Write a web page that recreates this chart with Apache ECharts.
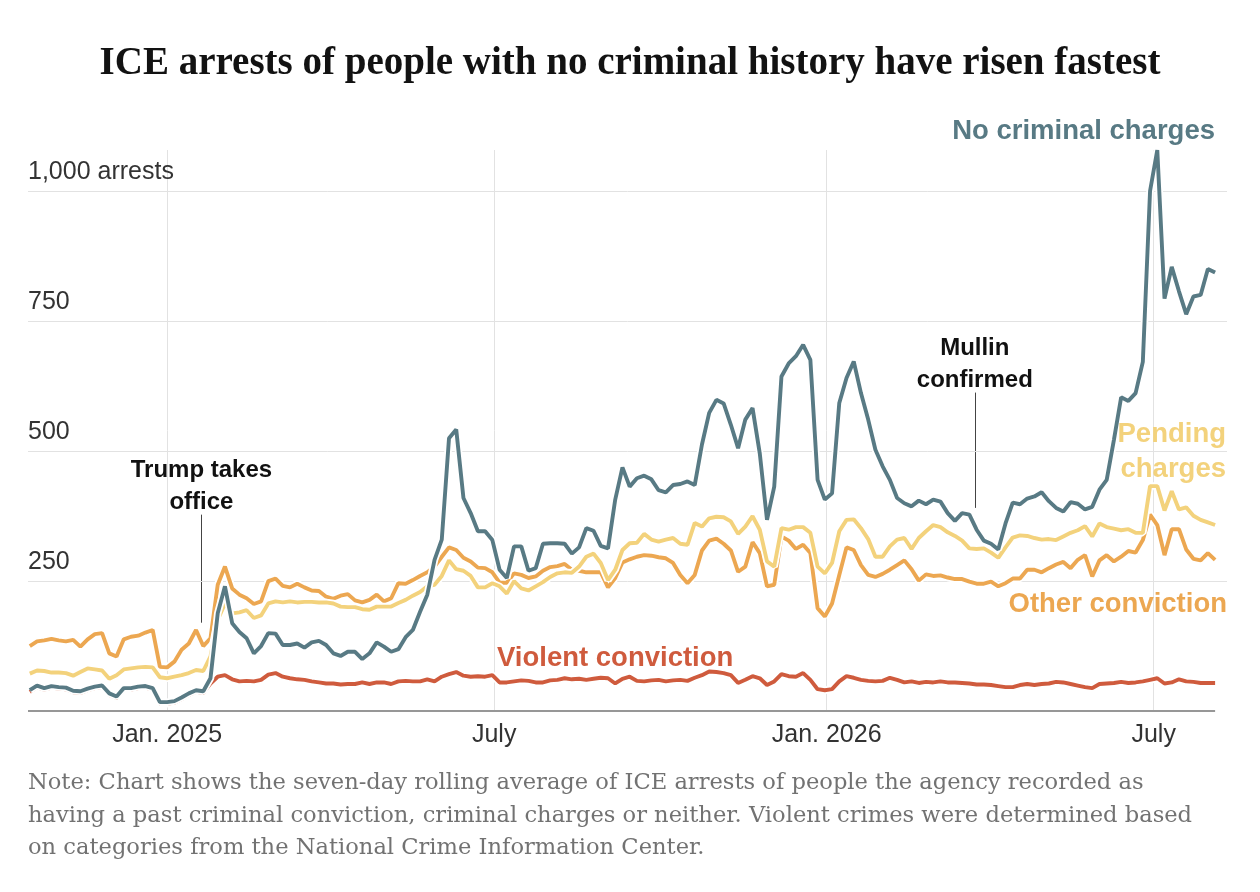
<!DOCTYPE html>
<html><head><meta charset="utf-8">
<script src="https://cdn.jsdelivr.net/npm/echarts@6/dist/echarts.min.js"></script>
<style>html,body{margin:0;padding:0;background:#fff}#c{width:1260px;height:892px}</style>
</head><body><div id="c"></div>
<script>
// 7-day rolling average of ICE arrests, sampled every 4 days starting Oct 17, 2024
const startYear = 2024, startMonth = 9, startDay = 17, stepDays = 4;

const noCharges = [
 40, 49, 44, 48, 46, 45, 39, 38, 43, 47,
 49, 34, 28, 44, 44, 47, 48, 44, 17, 17,
 19, 26, 34, 40, 38, 63, 188, 240, 169, 152,
 140, 111, 125, 150, 149, 127, 127, 130, 122, 132,
 135, 127, 111, 106, 114, 114, 100, 111, 132, 124,
 114, 119, 142, 156, 191, 224, 291, 330, 525, 542,
 410, 381, 346, 346, 329, 272, 256, 317, 317, 270,
 275, 322, 323, 323, 322, 303, 315, 352, 347, 318,
 313, 407, 469, 432, 448, 453, 446, 425, 421, 435,
 437, 442, 435, 513, 574, 599, 592, 551, 506, 561,
 583, 496, 368, 432, 644, 669, 683, 705, 676, 445,
 407, 419, 593, 641, 673, 612, 561, 503, 471, 445,
 410, 400, 394, 405, 398, 407, 403, 381, 366, 381,
 378, 349, 328, 322, 311, 361, 401, 398, 409, 413,
 421, 404, 391, 384, 402, 399, 388, 393, 426, 445,
 522, 604, 597, 612, 672, 1001, 1080, 794, 855, 808,
 764, 798, 801, 851, 844
];
const pendingCharges = [
 72, 78, 77, 74, 74, 73, 68, 75, 82, 80,
 78, 62, 69, 80, 82, 84, 85, 84, 65, 63,
 66, 69, 73, 79, 77, 105, 175, 207, 188, 190,
 194, 179, 184, 207, 211, 209, 211, 209, 210, 210,
 209, 209, 207, 201, 200, 200, 196, 195, 201, 201,
 201, 208, 214, 222, 229, 240, 243, 260, 290, 273,
 270, 260, 238, 238, 246, 240, 226, 250, 236, 232,
 240, 248, 258, 265, 267, 266, 278, 297, 303, 285,
 252, 272, 310, 323, 324, 341, 330, 326, 330, 333,
 322, 320, 362, 355, 371, 374, 373, 365, 341, 355,
 375, 349, 288, 278, 352, 349, 354, 354, 343, 278,
 265, 285, 346, 368, 369, 352, 331, 297, 297, 317,
 330, 333, 312, 333, 346, 358, 354, 344, 337, 328,
 313, 312, 313, 305, 295, 315, 334, 338, 337, 333,
 330, 331, 329, 336, 343, 348, 356, 336, 361, 354,
 351, 348, 350, 343, 343, 433, 433, 386, 423, 388,
 392, 376, 368, 363, 358
];
const otherConviction = [
 125, 134, 136, 139, 136, 134, 137, 124, 138, 148,
 150, 111, 105, 138, 143, 145, 151, 156, 85, 84,
 95, 118, 130, 156, 125, 140, 243, 278, 236, 224,
 217, 206, 211, 250, 255, 241, 238, 245, 238, 232,
 231, 220, 216, 222, 225, 213, 209, 214, 224, 211,
 217, 246, 245, 252, 260, 267, 278, 297, 315, 310,
 295, 288, 276, 275, 267, 247, 247, 265, 262, 256,
 259, 270, 277, 279, 283, 272, 270, 267, 267, 267,
 238, 256, 286, 292, 297, 300, 299, 296, 294, 285,
 262, 246, 262, 309, 328, 332, 322, 309, 268, 278,
 325, 304, 240, 243, 336, 328, 312, 320, 304, 198,
 182, 207, 262, 315, 310, 281, 262, 258, 264, 272,
 281, 290, 273, 251, 263, 260, 261, 257, 254, 254,
 249, 245, 245, 249, 240, 246, 255, 255, 272, 272,
 267, 275, 282, 287, 275, 291, 300, 259, 290, 300,
 288, 297, 308, 305, 329, 378, 358, 300, 350, 350,
 311, 293, 290, 304, 291
];
const violentConviction = [
 37, 46, 41, 45, 43, 42, 36, 35, 40, 44,
 46, 31, 25, 41, 41, 44, 45, 41, 14, 14,
 16, 23, 31, 37, 35, 53, 66, 69, 61, 57,
 58, 57, 60, 70, 73, 66, 63, 61, 60, 57,
 55, 53, 53, 51, 52, 52, 55, 52, 55, 55,
 52, 57, 58, 57, 57, 61, 57, 66, 71, 75,
 68, 66, 67, 66, 69, 55, 55, 57, 59, 58,
 55, 55, 59, 60, 63, 61, 62, 60, 62, 64,
 63, 53, 62, 66, 58, 57, 59, 60, 57, 59,
 60, 58, 64, 69, 76, 75, 73, 69, 54, 60,
 67, 63, 50, 57, 71, 67, 66, 73, 60, 42,
 40, 42, 57, 67, 64, 60, 58, 57, 58, 64,
 60, 55, 57, 54, 56, 55, 57, 55, 55, 54,
 53, 51, 51, 50, 48, 46, 46, 50, 52, 50,
 52, 53, 56, 55, 52, 49, 46, 44, 52, 53,
 54, 56, 54, 55, 57, 60, 63, 53, 55, 61,
 57, 56, 54, 54, 54
];

const xTickDates = ['2025-01-01', '2025-07-01', '2026-01-01', '2026-07-01'];
const xTickLabels = ['Jan. 2025', 'July', 'Jan. 2026', 'July'];
const yTicks = [0, 250, 500, 750, 1000];
const annotationDates = ['2025-01-20', '2026-03-24'];
const annotationRanges = [[170, 378], [391, 613]];
const annotationTexts = ['Trump takes\noffice', 'Mullin\nconfirmed'];

const dates = noCharges.map((_, i) => new Date(startYear, startMonth, startDay + i * stepDays).getTime());
const pts = arr => arr.map((v, i) => [dates[i], v]);
const parseDay = s => { const p = s.split('-').map(Number); return new Date(p[0], p[1] - 1, p[2]).getTime(); };

const SANS = '"Liberation Sans", Arial, sans-serif';
const C_TEAL = '#587a84', C_YEL = '#f3d27c', C_ORG = '#eca751', C_RED = '#cf5b3d';

function lineSeries(name, arr, color, z) {
  return [
    {type: 'line', name: name + ' halo', data: pts(arr), symbol: 'none', silent: true, z: z,
     lineStyle: {color: '#ffffff', width: 7.5}},
    {type: 'line', name: name, data: pts(arr), symbol: 'none', silent: true, z: z + 1,
     lineStyle: {color: color, width: 3.9}}
  ];
}

const markData = [];
xTickDates.forEach((d, i) => {
  markData.push({xAxis: parseDay(d), lineStyle: {color: '#e2e2e2', width: 1, type: 'solid'},
    label: {show: true, position: 'start', formatter: xTickLabels[i], color: '#333', fontSize: 25,
            fontFamily: SANS, distance: 12}});
});
markData.push([
  {coord: [dates[0] - 86400000, 0], lineStyle: {color: '#979797', width: 2, type: 'solid'}, label: {show: false}},
  {coord: [dates[dates.length - 1], 0]}
]);
annotationDates.forEach((d, i) => {
  markData.push([
    {coord: [parseDay(d), annotationRanges[i][0]], lineStyle: {color: '#444', width: 1, type: 'solid'},
     label: {show: true, position: 'end', formatter: annotationTexts[i], color: '#111', fontSize: 24,
             fontWeight: 'bold', fontFamily: SANS, lineHeight: 32, align: 'center', distance: -4}},
    {coord: [parseDay(d), annotationRanges[i][1]]}
  ]);
});

const chart = echarts.init(document.getElementById('c'), null, {renderer: 'canvas'});
chart.setOption({
  animation: false,
  backgroundColor: '#fff',
  title: {text: 'ICE arrests of people with no criminal history have risen fastest', left: 'center', top: 39,
    textStyle: {fontFamily: '"Liberation Serif", serif', fontWeight: 'bold', fontSize: 39, color: '#121212'}},
  grid: {left: 28, right: 33, top: 150, bottom: 181},
  xAxis: {type: 'time', min: new Date(2024, 9, 16).getTime(), max: new Date(2026, 7, 10, 14).getTime(),
    axisLine: {show: false}, axisTick: {show: false}, axisLabel: {show: false}, splitLine: {show: false}},
  yAxis: {type: 'value', min: 0, max: 1080, interval: 250, z: 1.5,
    axisLine: {show: false}, axisTick: {show: false},
    splitLine: {show: true, showMinLine: false, showMaxLine: false, lineStyle: {color: '#e2e2e2', width: 1}},
    axisLabel: {inside: true, margin: 0, verticalAlign: 'bottom', padding: [0, 0, 7, 0], color: '#333',
      fontSize: 25, fontFamily: SANS, showMinLabel: false, showMaxLabel: false,
      formatter: v => v === 1000 ? '1,000 arrests' : (yTicks.indexOf(v) > 0 ? String(v) : '')}},
  series: [
    {type: 'line', name: 'frame', data: [], silent: true, z: 1,
     markLine: {z: 1, silent: true, symbol: 'none', animation: false, data: markData}},
    ...lineSeries('Violent conviction', violentConviction, C_RED, 2),
    ...lineSeries('Other conviction', otherConviction, C_ORG, 4),
    ...lineSeries('Pending charges', pendingCharges, C_YEL, 6),
    ...lineSeries('No criminal charges', noCharges, C_TEAL, 8)
  ],
  graphic: [
    {type: 'text', x: 1215, y: 131, z: 20, style: {text: 'No criminal charges', fill: C_TEAL, align: 'right', verticalAlign: 'middle', font: 'bold 27.5px ' + SANS}},
    {type: 'text', x: 1226, y: 452, z: 20, style: {text: 'Pending\ncharges', fill: C_YEL, align: 'right', verticalAlign: 'middle', lineHeight: 35, font: 'bold 27.5px ' + SANS}},
    {type: 'text', x: 1227, y: 604, z: 20, style: {text: 'Other conviction', fill: C_ORG, align: 'right', verticalAlign: 'middle', font: 'bold 27.5px ' + SANS}},
    {type: 'text', x: 497, y: 658, z: 20, style: {text: 'Violent conviction', fill: C_RED, align: 'left', verticalAlign: 'middle', font: 'bold 27.5px ' + SANS}},
    {type: 'text', x: 28, y: 767, z: 20, style: {text: 'Note: Chart shows the seven-day rolling average of ICE arrests of people the agency recorded as\nhaving a past criminal conviction, criminal charges or neither. Violent crimes were determined based\non categories from the National Crime Information Center.', fill: '#727272', align: 'left', verticalAlign: 'top', lineHeight: 32.5, font: '22.6px "DejaVu Serif", serif'}}
  ]
});
</script>
</body></html>
